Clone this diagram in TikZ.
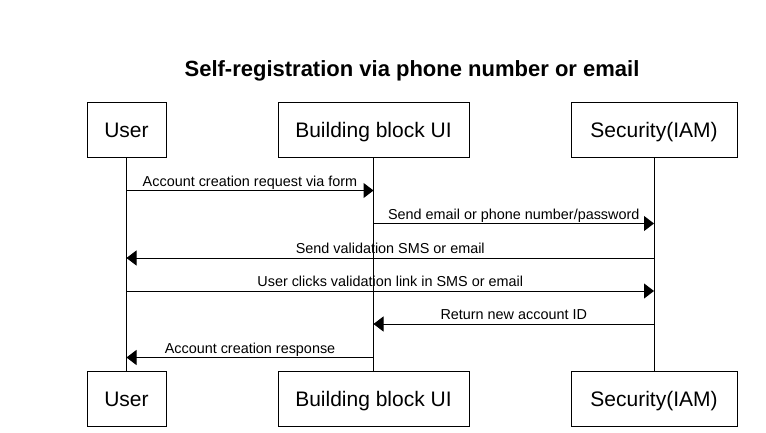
\documentclass[tikz,border=0pt]{standalone}
\usepackage{fontspec}
\setmainfont{Liberation Sans}
\usetikzlibrary{arrows.meta}
\begin{document}
\begin{tikzpicture}[x=1pt,y=-1pt,
  actor/.style={draw, line width=1pt, minimum height=55pt, inner sep=0pt,
    font=\fontsize{21}{25}\selectfont, text height=15pt, text depth=0pt},
  life/.style={line width=1pt},
  msg/.style={line width=1pt, -{Triangle[length=10pt,width=15pt]}},
  lbl/.style={font=\fontsize{14.4}{17}\selectfont, anchor=base, inner sep=0pt, yshift=4.5pt}]
\useasboundingbox (0,0) rectangle (766,433);
\node[font=\bfseries\fontsize{22}{26}\selectfont, anchor=base, inner sep=0pt] (title) at (412,77) {Self-registration via phone number or email};
% top actors
\node[actor, minimum width=79pt] (u1) at (126.5,130.5) {User};
\node[actor, minimum width=191pt] (b1) at (373.5,130.5) {Building block UI};
\node[actor, minimum width=166pt] (s1) at (654,130.5) {Security(IAM)};
% bottom actors
\node[actor, minimum width=79pt] (u2) at (126.5,399) {User};
\node[actor, minimum width=191pt] (b2) at (373.5,399) {Building block UI};
\node[actor, minimum width=166pt] (s2) at (654,399) {Security(IAM)};
% lifelines
\draw[life] (u1) -- (u2);
\draw[life] (b1) -- (b2);
\draw[life] (s1) -- (s2);
% message points
\coordinate (m1a) at (u1.south |- 0,190.5);
\coordinate (m1b) at (b1.south |- 0,190.5);
\coordinate (m2a) at (b1.south |- 0,223.5);
\coordinate (m2b) at (s1.south |- 0,223.5);
\coordinate (m3a) at (s1.south |- 0,258);
\coordinate (m3b) at (u1.south |- 0,258);
\coordinate (m4a) at (u1.south |- 0,291);
\coordinate (m4b) at (s1.south |- 0,291);
\coordinate (m5a) at (s1.south |- 0,324);
\coordinate (m5b) at (b1.south |- 0,324);
\coordinate (m6a) at (b1.south |- 0,357.5);
\coordinate (m6b) at (u1.south |- 0,357.5);
% messages
\draw[msg] (m1a) -- node[lbl] (l1) {Account creation request via form} (m1b);
\draw[msg] (m2a) -- node[lbl] (l2) {Send email or phone number/password} (m2b);
\draw[msg] (m3a) -- node[lbl] (l3) {Send validation SMS or email} (m3b);
\draw[msg] (m4a) -- node[lbl] (l4) {User clicks validation link in SMS or email} (m4b);
\draw[msg] (m5a) -- node[lbl] (l5) {Return new account ID} (m5b);
\draw[msg] (m6a) -- node[lbl] (l6) {Account creation response} (m6b);
\end{tikzpicture}
\end{document}
